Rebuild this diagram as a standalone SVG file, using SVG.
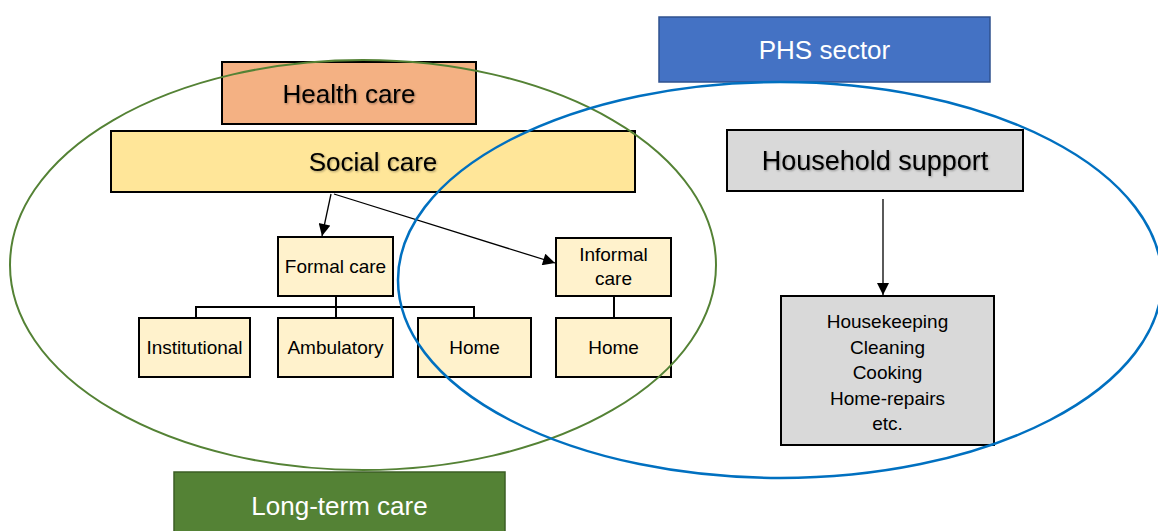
<svg xmlns="http://www.w3.org/2000/svg" width="1158" height="531" viewBox="0 0 1158 531">
<style>
.t{font-family:"Liberation Sans",Arial,sans-serif;text-anchor:middle;fill:#000}
.big{font-size:26px}
.sm{font-size:19px}
.box{stroke:#000;stroke-width:2}
.cream{fill:#FFF2CC}
.grey{fill:#D9D9D9}
.ln{stroke:#000;stroke-width:1.3;fill:none}
.tree{stroke:#000;stroke-width:2;fill:none}
</style>
<defs>
<marker id="ah" viewBox="0 0 10 10" refX="10" refY="5" markerWidth="13" markerHeight="12" markerUnits="userSpaceOnUse" orient="auto">
<path d="M0,0 L10,5 L0,10 Z" fill="#000"/>
</marker>
<filter id="sh" x="-10%" y="-20%" width="120%" height="140%">
<feDropShadow dx="1" dy="1" stdDeviation="0.8" flood-color="#000" flood-opacity="0.35"/>
</filter>
</defs>
<rect width="1158" height="531" fill="#fff"/>
<g id="phs-sector">
<rect x="659" y="17" width="331" height="65" fill="#4472C4" stroke="#2F528F" stroke-width="1.5"/>
<text class="t big" x="824.5" y="59" style="fill:#fff">PHS sector</text>
</g>
<g id="long-term-care">
<rect x="174" y="472" width="331" height="65" fill="#548235" stroke="#3B5E25" stroke-width="1.5"/>
<text class="t big" x="339.5" y="515" style="fill:#fff">Long-term care</text>
</g>
<g id="health-care">
<rect class="box" x="222" y="62" width="254" height="62" fill="#F4B183"/>
<text class="t big" x="349" y="103" filter="url(#sh)">Health care</text>
</g>
<g id="social-care">
<rect class="box" x="111" y="131" width="524" height="61" fill="#FFE699"/>
<text class="t big" x="373" y="171" filter="url(#sh)">Social care</text>
</g>
<g id="household-support">
<rect class="box grey" x="727" y="130" width="296" height="61"/>
<text class="t big" x="875" y="170" filter="url(#sh)" style="font-size:27px">Household support</text>
</g>
<g id="formal-care">
<rect class="box cream" x="278" y="237" width="115" height="59"/>
<text class="t sm" x="335.5" y="273">Formal care</text>
</g>
<g id="informal-care">
<rect class="box cream" x="556" y="238" width="115" height="58"/>
<text class="t sm" x="613.5" y="261">Informal</text>
<text class="t sm" x="613.5" y="285">care</text>
</g>
<g id="institutional">
<rect class="box cream" x="139" y="318" width="111" height="59"/>
<text class="t sm" x="194.5" y="354">Institutional</text>
</g>
<g id="ambulatory">
<rect class="box cream" x="278" y="318" width="115" height="59"/>
<text class="t sm" x="335.5" y="354">Ambulatory</text>
</g>
<g id="home-formal">
<rect class="box cream" x="418" y="318" width="113" height="59"/>
<text class="t sm" x="474.5" y="354">Home</text>
</g>
<g id="home-informal">
<rect class="box cream" x="556" y="318" width="115" height="59"/>
<text class="t sm" x="613.5" y="354">Home</text>
</g>
<g id="household-tasks">
<rect class="box grey" x="781" y="296" width="213" height="149"/>
<text class="t sm" x="887.5" y="328">Housekeeping</text>
<text class="t sm" x="887.5" y="354">Cleaning</text>
<text class="t sm" x="887.5" y="379">Cooking</text>
<text class="t sm" x="887.5" y="405">Home-repairs</text>
<text class="t sm" x="887.5" y="430">etc.</text>
</g>
<g id="connectors">
<line class="ln" x1="331" y1="194" x2="322" y2="236" marker-end="url(#ah)"/>
<line class="ln" x1="334" y1="194" x2="555" y2="263" marker-end="url(#ah)"/>
<line class="ln" x1="883" y1="199" x2="883" y2="295" marker-end="url(#ah)"/>
<path class="tree" d="M336,296 V318 M196,318 V307 H474 V318 M614,296 V318"/>
</g>
<g id="regions">
<ellipse cx="363" cy="265" rx="353" ry="205" fill="none" stroke="#548235" stroke-width="2"/>
<ellipse cx="780" cy="280" rx="382" ry="198" fill="none" stroke="#0070C0" stroke-width="2.5"/>
</g>
</svg>
